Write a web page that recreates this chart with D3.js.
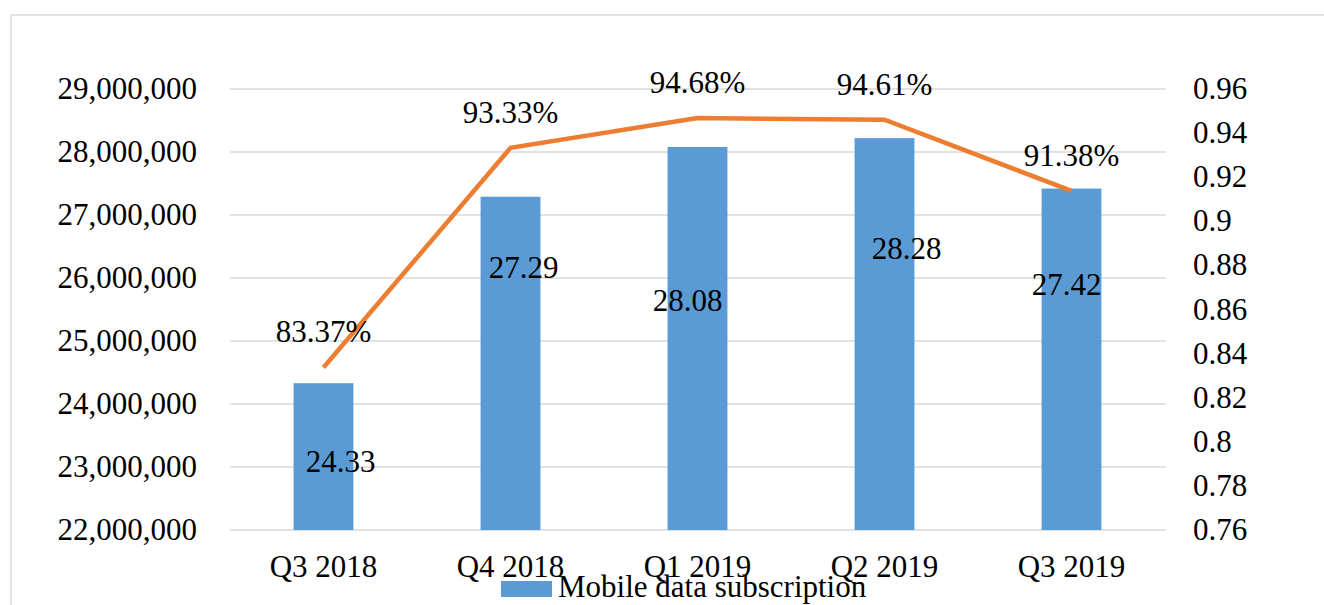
<!DOCTYPE html>
<html lang="en">
<head>
  <meta charset="UTF-8" />
  <title>Mobile data subscription</title>
  <script src="https://d3js.org/d3.v7.min.js"></script>
  <style>
    body { margin: 0; background: #fff; }
    svg { display: block; font-family: "Liberation Serif", serif; }
    .grid line { stroke: #d9d9d9; stroke-width: 1.5px; }
    .lbl { font-size: 31px; fill: #000; }
  </style>
</head>
<body>
<svg width="1324" height="605"></svg>
<script>
const quarters = ["Q3 2018", "Q4 2018", "Q1 2019", "Q2 2019", "Q3 2019"];
// bar heights as drawn in the original (Q2 2019 bar sits a bit below its label's value)
const subscriptions = [24330000, 27290000, 28080000, 28220000, 27420000];
const barLabels = ["24.33", "27.29", "28.08", "28.28", "27.42"];
const shares = [0.8337, 0.9333, 0.9468, 0.9461, 0.9138];
const leftTicks = [22e6, 23e6, 24e6, 25e6, 26e6, 27e6, 28e6, 29e6];
const rightTicks = [0.76, 0.78, 0.8, 0.82, 0.84, 0.86, 0.88, 0.9, 0.92, 0.94, 0.96];

// hand-placed bar labels in the original (dx, dy from bar top)
const barLabelNudge = [[17, 89], [13, 81], [-10, 164], [22, 121], [-5, 106]];

const svg = d3.select("svg");

// outer frame
svg.append("rect")
  .attr("x", 11).attr("y", 15)
  .attr("width", 1400).attr("height", 700)
  .attr("fill", "none")
  .attr("stroke", "#d9d9d9")
  .attr("stroke-width", 1.5);

const x = d3.scaleBand().domain(quarters).range([230, 1165])
  .paddingInner(0.68).paddingOuter(0.34);
const yL = d3.scaleLinear().domain([22e6, 29e6]).range([530, 89]);
const yR = d3.scaleLinear().domain([0.76, 0.96]).range([530, 89]);

// gridlines
svg.append("g").attr("class", "grid")
  .selectAll("line")
  .data(leftTicks)
  .join("line")
  .attr("x1", 230).attr("x2", 1166)
  .attr("y1", d => yL(d)).attr("y2", d => yL(d));

// left axis labels
const fmt = d3.format(",");
svg.append("g")
  .selectAll("text")
  .data(leftTicks)
  .join("text")
  .attr("class", "lbl")
  .attr("x", 197)
  .attr("y", d => yL(d) + 10)
  .attr("text-anchor", "end")
  .text(d => fmt(d));

// right axis labels
svg.append("g")
  .selectAll("text")
  .data(rightTicks)
  .join("text")
  .attr("class", "lbl")
  .attr("x", 1193)
  .attr("y", d => yR(d) + 10)
  .text(d => String(+d.toFixed(2)));

// x labels
svg.append("g")
  .selectAll("text")
  .data(quarters)
  .join("text")
  .attr("class", "lbl")
  .attr("x", d => x(d) + x.bandwidth() / 2)
  .attr("y", 577)
  .attr("text-anchor", "middle")
  .text(d => d);

// bars
svg.append("g")
  .selectAll("rect")
  .data(subscriptions)
  .join("rect")
  .attr("x", (d, i) => x(quarters[i]))
  .attr("y", d => yL(d))
  .attr("width", x.bandwidth())
  .attr("height", d => yL(22e6) - yL(d))
  .attr("fill", "#5b9bd5");

// line
const line = d3.line()
  .x((d, i) => x(quarters[i]) + x.bandwidth() / 2)
  .y(d => yR(d));
svg.append("path")
  .datum(shares)
  .attr("d", line)
  .attr("fill", "none")
  .attr("stroke", "#ed7d31")
  .attr("stroke-width", 4.5);

// bar labels
svg.append("g")
  .selectAll("text")
  .data(subscriptions)
  .join("text")
  .attr("class", "lbl")
  .attr("x", (d, i) => x(quarters[i]) + x.bandwidth() / 2 + barLabelNudge[i][0])
  .attr("y", (d, i) => yL(d) + barLabelNudge[i][1])
  .attr("text-anchor", "middle")
  .text((d, i) => barLabels[i]);

// line labels
svg.append("g")
  .selectAll("text")
  .data(shares)
  .join("text")
  .attr("class", "lbl")
  .attr("x", (d, i) => x(quarters[i]) + x.bandwidth() / 2)
  .attr("y", d => yR(d) - 25)
  .attr("text-anchor", "middle")
  .text(d => (d * 100).toFixed(2) + "%");

// legend
const legend = svg.append("g");
legend.append("rect")
  .attr("x", 501).attr("y", 581)
  .attr("width", 51).attr("height", 16)
  .attr("fill", "#5b9bd5");
legend.append("text")
  .attr("class", "lbl")
  .attr("x", 558).attr("y", 597)
  .text("Mobile data subscription");
</script>
</body>
</html>
